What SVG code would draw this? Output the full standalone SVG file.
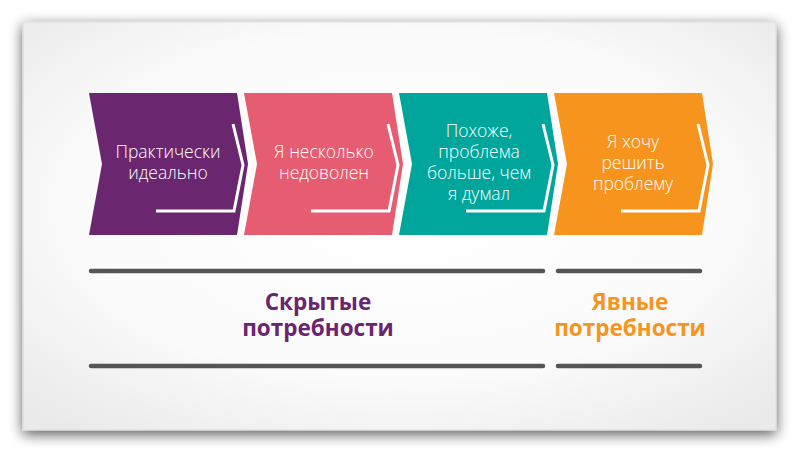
<svg xmlns="http://www.w3.org/2000/svg" width="800" height="452" viewBox="0 0 800 452">
  <defs>
    <radialGradient id="bg" cx="0.5" cy="0.45" r="0.7">
      <stop offset="0" stop-color="#ffffff"/>
      <stop offset="0.6" stop-color="#fbfbfb"/>
      <stop offset="1" stop-color="#eaeaea"/>
    </radialGradient>
    <filter id="shadow" x="-10%" y="-10%" width="120%" height="130%">
      <feGaussianBlur in="SourceAlpha" stdDeviation="7"/>
      <feOffset dx="0" dy="4" result="b"/>
      <feComponentTransfer><feFuncA type="linear" slope="0.65"/></feComponentTransfer>
      <feMerge><feMergeNode/><feMergeNode in="SourceGraphic"/></feMerge>
    </filter>
    <path id="chev" d="M0,93 L148,93 L159,164 L148,235 L0,235 L13,164 Z"/>
    <path id="inner" d="M144,124 L154,165 L145,211 L67,211"/>
  </defs>
  <style>
    .inner { fill: none; stroke: #ffffff; stroke-width: 3; stroke-linejoin: miter; }
    .lbl { font-family: "Open Sans", "Liberation Sans", sans-serif; font-weight: 300; font-size: 17.5px; fill: #ffffff; text-anchor: middle; }
    .cat { font-family: "Open Sans", "Liberation Sans", sans-serif; font-weight: 700; font-size: 22.5px; text-anchor: middle; }
    .bar { stroke: #555555; stroke-width: 4.5; stroke-linecap: round; }
  </style>
  <rect width="800" height="452" fill="#ffffff"/>
  <rect x="23" y="22" width="753" height="408" fill="url(#bg)" stroke="#dcdcdc" stroke-width="1" filter="url(#shadow)"/>

  <g id="node-1" transform="translate(89,0)">
    <use href="#chev" fill="#6A276F"/>
    <use href="#inner" class="inner"/>
    <text class="lbl" x="79"><tspan x="79" y="158">Практически</tspan><tspan x="79" y="179">идеально</tspan></text>
  </g>
  <g id="node-2" transform="translate(244,0)">
    <use href="#chev" fill="#E65C70"/>
    <use href="#inner" class="inner"/>
    <text class="lbl" x="80"><tspan x="80" y="158">Я несколько</tspan><tspan x="80" y="179">недоволен</tspan></text>
  </g>
  <g id="node-3" transform="translate(399,0)">
    <use href="#chev" fill="#00A69C"/>
    <use href="#inner" class="inner"/>
    <text class="lbl" x="80"><tspan x="80" y="137">Похоже,</tspan><tspan x="80" y="158">проблема</tspan><tspan x="80" y="179">больше, чем</tspan><tspan x="80" y="200">я думал</tspan></text>
  </g>
  <g id="node-4" transform="translate(554,0)">
    <use href="#chev" fill="#F7941E"/>
    <use href="#inner" class="inner"/>
    <text class="lbl" x="79"><tspan x="79" y="148">Я хочу</tspan><tspan x="79" y="169">решить</tspan><tspan x="79" y="190">проблему</tspan></text>
  </g>

  <g id="connectors">
    <line class="bar" x1="91" y1="271" x2="543" y2="271"/>
    <line class="bar" x1="558" y1="271" x2="700" y2="271"/>
    <line class="bar" x1="91" y1="366" x2="543" y2="366"/>
    <line class="bar" x1="558" y1="366" x2="700" y2="366"/>
  </g>

  <g id="hidden-needs">
    <text class="cat" fill="#6A2470"><tspan x="318" y="310">Скрытые</tspan><tspan x="318" y="336">потребности</tspan></text>
  </g>
  <g id="explicit-needs">
    <text class="cat" fill="#F7941E"><tspan x="630" y="310">Явные</tspan><tspan x="630" y="336">потребности</tspan></text>
  </g>
</svg>
